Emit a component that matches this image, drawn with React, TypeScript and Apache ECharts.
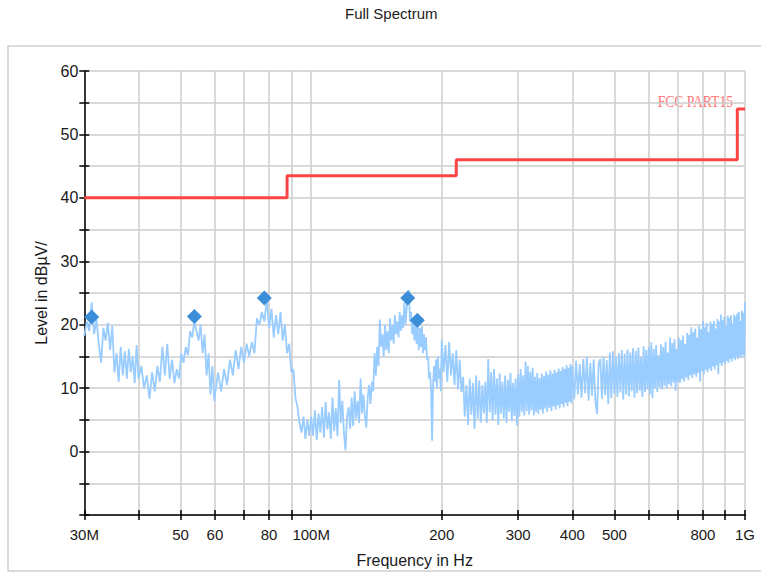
import React, { useEffect, useRef } from 'react';
import * as echarts from 'echarts';

const titleText = 'Full Spectrum';
const xAxisName = 'Frequency in Hz';
const yAxisName = 'Level in dBµV/';
const limitName = 'FCC PART15';

// x axis (MHz)
const xTickFreqs = [30, 40, 50, 60, 70, 80, 90, 100, 200, 300, 400, 500, 600, 700, 800, 900, 1000];
const xLabelFreqs = [30, 50, 60, 80, 100, 200, 300, 400, 500, 800, 1000];
const xLabelTexts = ['30M', '50', '60', '80', '100M', '200', '300', '400', '500', '800', '1G'];
const xMinFreq = 30;
const xMaxFreq = 1000;

// y axis
const yMin = -10;
const yMax = 60;
const yStep = 5;

// limit line
const limitFreq = [30, 88, 88, 216, 216, 960, 960, 1000];
const limitLevel = [40, 40, 43.5, 43.5, 46, 46, 54, 54];

// peak markers
const markerFreq = [31.2, 53.8, 78.0, 167.0, 175.7];
const markerLevel = [21.2, 21.3, 24.2, 24.2, 20.7];

// measured trace [MHz, dBµV]
const trace: [number, number][] = [
  [30.0, 18.2], [30.4, 20.5], [30.8, 19.0], [31.2, 23.5], [31.6, 18.5], [32.0, 20.8], [32.4, 17.0], [32.8, 14.0],
  [33.2, 19.5], [33.6, 17.5], [34.0, 20.3], [34.4, 16.0], [34.8, 19.8], [35.2, 12.5], [35.6, 15.5], [36.0, 11.0],
  [36.4, 16.5], [36.8, 12.0], [37.2, 15.8], [37.6, 11.5], [38.0, 16.2], [38.4, 12.5], [38.8, 15.0], [39.2, 10.8],
  [39.6, 16.8], [40.0, 11.5],
  [40.6, 13.5], [41.2, 10.0], [41.8, 12.0], [42.4, 8.3], [43.0, 12.5], [43.6, 9.5], [44.2, 13.5], [44.8, 11.0],
  [45.4, 16.5], [46.0, 12.0], [46.6, 17.0], [47.2, 11.5], [47.8, 14.5], [48.4, 10.8], [49.0, 13.0], [49.6, 11.5],
  [50.2, 15.5], [50.8, 14.0], [51.4, 16.5], [52.0, 15.2], [52.6, 19.0], [53.2, 18.0], [53.8, 20.5], [54.4, 19.0],
  [55.0, 17.5], [55.6, 20.0], [56.2, 15.5], [56.8, 18.5], [57.4, 12.0], [58.0, 15.5], [58.6, 9.0], [59.2, 13.5],
  [59.8, 8.0],
  [61, 12.5], [62, 9.5], [63, 13.0], [64, 10.5], [65, 14.5], [66, 12.0], [67, 16.0], [68, 13.0], [69, 16.5],
  [70, 14.0], [71, 17.0], [72, 15.0], [73, 17.3], [74, 15.5], [75, 21.0], [76, 20.0], [77, 22.0], [78, 20.5],
  [79, 24.0], [80, 19.5], [81, 22.5], [82, 18.0], [83, 21.5], [84, 18.5], [85, 22.0], [86, 17.5], [87, 20.0],
  [88, 15.5], [89, 17.0], [90, 12.5], [91, 13.0], [92, 8.5], [93, 7.0], [94, 4.5], [95, 3.0], [96, 5.5],
  [97, 2.0], [98, 5.0], [99, 2.5],
  [100, 5.5], [101, 2.5], [102, 6.5], [103, 1.8], [104, 6.0], [105, 3.0], [106, 7.0], [107, 2.2], [108, 7.8],
  [109, 3.5], [110, 6.2], [111, 2.0], [112, 8.5], [113, 3.2], [114, 6.8], [115, 2.4], [116, 11.3], [117, 4.5],
  [118, 8.0], [119, 3.0], [120, 0.2], [121, 5.5], [122, 7.0], [123, 3.6], [124, 8.5], [125, 4.0], [126, 9.5],
  [127, 5.2], [128, 8.0], [129, 4.5], [130, 11.5], [131, 6.0], [132, 9.0], [133, 5.5], [134, 3.8], [135, 8.5],
  [136, 10.5], [137, 7.5], [138, 11.0], [139, 9.5], [140, 15.5], [141, 12.0], [142, 16.5], [143, 13.5],
  [144, 20.8], [145, 16.5], [146, 18.5], [147, 15.0], [148, 20.0], [149, 16.0], [150, 19.0], [151, 15.5],
  [152, 21.0], [153, 17.5], [154, 20.0], [155, 17.0], [156, 21.5], [157, 18.5], [158, 20.5], [159, 18.0],
  [160, 22.0], [161, 19.0], [162, 21.5], [163, 19.5], [164, 23.5], [165, 20.0], [166, 22.5], [167, 24.5],
  [168, 25.5], [169, 20.5], [170, 22.0], [171, 18.5], [172, 21.0], [173, 17.5], [174, 20.5], [175, 17.0],
  [176, 20.0], [177, 16.0], [178, 19.5], [179, 16.5], [180, 19.8], [181, 15.5], [182, 18.5], [183, 16.0],
  [184, 18.0], [185, 14.5], [186, 15.0], [187, 11.5], [188, 12.5], [189, 9.5], [190, 1.7], [191, 10.5],
  [192, 13.5], [193, 11.0], [194, 14.5], [195, 10.0], [196, 15.0], [197, 11.5], [198, 13.0], [199, 9.5],
  [200, 17.5], [202, 12.5], [204, 16.8], [206, 11.0], [208, 17.3], [210, 12.0], [212, 15.5], [214, 10.5],
  [216, 16.0], [218, 9.8], [220, 14.5], [222, 9.4], [224, 11.8], [226, 5.5], [228, 10.5], [230, 4.2],
  [232, 11.5], [234, 5.8], [236, 10.8], [238, 3.6], [240, 12.0], [242, 5.2], [244, 11.2], [246, 4.6],
  [248, 10.5], [250, 6.0], [252, 11.0], [254, 4.5], [256, 14.6], [258, 6.2], [260, 12.5], [262, 5.0],
  [264, 13.0], [266, 5.8], [268, 11.5], [270, 4.2], [272, 12.3], [274, 6.0], [276, 11.0], [278, 5.2],
  [280, 12.0], [282, 4.5], [284, 11.3], [286, 6.3], [288, 12.4], [290, 4.8], [292, 10.8], [294, 5.6],
  [296, 11.5], [298, 4.1], [300, 12.2], [302, 5.5], [304, 13.0], [306, 6.3], [308, 12.0], [310, 5.7],
  [312, 14.2], [314, 6.4], [316, 13.5], [318, 5.8], [320, 12.6], [322, 6.5], [324, 13.2], [326, 5.7],
  [328, 11.8], [330, 6.2], [332, 12.4], [334, 5.9], [336, 11.6], [338, 6.6], [340, 12.3], [342, 6.0],
  [344, 11.9], [346, 6.8], [348, 12.6], [350, 6.3], [352, 12.2], [354, 6.9], [356, 12.8], [358, 6.4],
  [360, 12.3], [362, 7.1], [364, 12.9], [366, 6.6], [368, 12.5], [370, 7.3], [372, 13.1], [374, 6.8],
  [376, 12.7], [378, 7.5], [380, 13.3], [382, 7.0], [384, 13.0], [386, 7.7], [388, 13.6], [390, 7.2],
  [392, 13.2], [394, 7.9], [396, 13.8], [398, 7.6],
  [400, 13.5], [404, 8.2], [408, 14.3], [412, 9.0], [416, 13.8], [420, 8.5], [424, 14.6], [428, 9.2],
  [432, 14.9], [436, 8.0], [440, 14.0], [444, 8.8], [448, 14.5], [452, 7.9], [456, 5.9], [460, 13.9],
  [464, 14.6], [468, 8.3], [472, 15.0], [476, 8.9], [480, 14.4], [484, 7.5], [488, 15.6], [492, 8.4],
  [496, 15.8], [500, 9.1], [504, 15.0], [508, 8.6], [512, 15.5], [516, 9.3], [520, 16.0], [524, 8.2],
  [528, 15.4], [532, 9.0], [536, 16.1], [540, 8.7], [544, 15.6], [548, 9.5], [552, 16.3], [556, 8.5],
  [560, 15.9], [564, 9.2], [568, 16.4], [572, 9.6], [576, 14.9], [580, 8.6], [584, 16.6], [588, 9.4],
  [592, 16.0], [596, 9.8], [600, 16.5], [604, 9.0], [608, 17.2], [612, 8.4], [616, 16.2], [620, 10.0],
  [624, 16.8], [628, 9.4], [632, 15.2], [636, 10.2], [640, 16.9], [644, 9.8], [648, 16.5], [652, 10.4],
  [656, 17.3], [660, 10.0], [664, 15.6], [668, 10.6], [672, 18.0], [676, 10.3], [680, 17.1], [684, 10.9],
  [688, 17.7], [692, 9.6], [696, 16.2], [700, 11.1], [704, 18.0], [708, 10.8], [712, 17.6], [716, 11.4],
  [720, 18.3], [724, 11.0], [728, 16.9], [732, 11.7], [736, 18.7], [740, 11.3], [744, 18.4], [748, 12.0],
  [752, 19.6], [756, 11.6], [760, 18.8], [764, 12.2], [768, 19.4], [772, 11.8], [776, 18.0], [780, 12.4],
  [784, 19.8], [788, 11.0], [792, 19.3], [796, 12.7], [800, 20.6], [804, 12.2], [808, 19.6], [812, 12.9],
  [816, 20.3], [820, 12.5], [824, 18.8], [828, 13.1], [832, 20.5], [836, 12.7], [840, 20.1], [844, 13.4],
  [848, 20.6], [852, 13.0], [856, 19.4], [860, 13.6], [864, 20.9], [868, 12.2], [872, 20.5], [876, 13.9],
  [880, 21.6], [884, 13.5], [888, 20.7], [892, 14.1], [896, 21.2], [900, 13.8], [904, 19.8], [908, 14.3],
  [912, 21.4], [916, 14.0], [920, 21.1], [924, 14.6], [928, 21.5], [932, 14.2], [936, 20.2], [940, 14.8],
  [944, 21.6], [948, 14.4], [952, 21.3], [956, 15.0], [960, 21.8], [964, 14.6], [968, 22.0], [972, 15.1],
  [976, 20.6], [980, 14.8], [984, 22.2], [988, 15.3], [992, 21.9], [996, 15.0], [1000, 23.5],
];

const FONT = '"Liberation Sans", Arial, sans-serif';
const TEXT_COLOR = '#1a1a1a';
const GRID_COLOR = '#cccccc';

export default function App() {
  const ref = useRef<HTMLDivElement>(null);

  useEffect(() => {
    if (!ref.current) return;
    const chart = echarts.init(ref.current, undefined, { renderer: 'svg' });

    const tickLogs = xTickFreqs.map((f) => Math.log10(f));
    const labelLogs = xLabelFreqs.map((f) => Math.log10(f));
    const xLogMin = Math.log10(xMinFreq);
    const xLogMax = Math.log10(xMaxFreq);

    const xLabelFormatter = (v: number) => {
      const i = labelLogs.findIndex((l) => Math.abs(l - v) < 1e-6);
      return i >= 0 ? xLabelTexts[i] : '';
    };

    chart.setOption({
      animation: false,
      backgroundColor: '#ffffff',
      title: {
        text: titleText,
        left: 340,
        top: 1,
        textStyle: { fontFamily: FONT, fontSize: 15, fontWeight: 'normal', color: TEXT_COLOR },
      },
      graphic: [
        {
          type: 'rect',
          z: -10,
          silent: true,
          shape: { x: 8, y: 46, width: 800, height: 525 },
          style: { fill: 'none', stroke: '#cfcfcf', lineWidth: 1.5 },
        },
        {
          type: 'text',
          x: 733,
          y: 102,
          scaleX: 0.85,
          silent: true,
          style: {
            text: limitName,
            font: '16px "Liberation Serif", "Times New Roman", serif',
            fill: '#ff7676',
            align: 'right',
            verticalAlign: 'middle',
          },
        },
      ],
      grid: { left: 84.3, right: 16, top: 71, bottom: 56.5, containLabel: false },
      xAxis: [
        {
          type: 'log',
          logBase: 10,
          min: xMinFreq,
          max: xMaxFreq,
          show: false,
        },
        {
          type: 'value',
          min: xLogMin,
          max: xLogMax,
          position: 'bottom',
          name: xAxisName,
          nameLocation: 'middle',
          nameGap: 37,
          nameTextStyle: { fontFamily: FONT, fontSize: 16, color: TEXT_COLOR },
          axisLine: { show: true, onZero: false, lineStyle: { color: '#000', width: 1.5 } },
          axisTick: { show: true, inside: false, length: 5, customValues: tickLogs, lineStyle: { color: '#000', width: 1.5 } },
          axisLabel: {
            show: true,
            customValues: labelLogs,
            formatter: xLabelFormatter,
            margin: 12,
            fontFamily: FONT,
            fontSize: 15,
            color: TEXT_COLOR,
          },
          splitLine: { show: true, lineStyle: { color: GRID_COLOR, width: 1.5 } },
        },
        {
          type: 'value',
          min: xLogMin,
          max: xLogMax,
          position: 'bottom',
          axisLine: { show: false, onZero: false },
          axisTick: { show: true, inside: true, length: 5, customValues: tickLogs, lineStyle: { color: '#000', width: 1.5 } },
          axisLabel: { show: false },
          splitLine: { show: false },
        },
      ],
      yAxis: [
        {
          type: 'value',
          min: yMin,
          max: yMax,
          interval: yStep,
          name: yAxisName,
          nameLocation: 'middle',
          nameRotate: 90,
          nameGap: 31,
          nameTextStyle: { fontFamily: FONT, fontSize: 16, color: TEXT_COLOR },
          axisLine: { show: true, onZero: false, lineStyle: { color: '#000', width: 1.5 } },
          axisTick: { show: true, inside: false, length: 5, lineStyle: { color: '#000', width: 1.5 } },
          axisLabel: {
            margin: 6,
            fontFamily: FONT,
            fontSize: 16,
            color: TEXT_COLOR,
            formatter: (v: number) => (v >= 0 && v % 10 === 0 ? String(v) : ''),
          },
          splitLine: { show: true, lineStyle: { color: GRID_COLOR, width: 1.5 } },
        },
        {
          type: 'value',
          min: yMin,
          max: yMax,
          interval: yStep,
          position: 'left',
          axisLine: { show: false, onZero: false },
          axisTick: { show: true, inside: true, length: 5, lineStyle: { color: '#000', width: 1.5 } },
          axisLabel: { show: false },
          splitLine: { show: false },
        },
      ],
      series: [
        {
          type: 'line',
          name: 'Trace',
          xAxisIndex: 0,
          yAxisIndex: 0,
          data: trace,
          symbol: 'none',
          lineStyle: { color: '#99ccff', width: 1.8 },
          z: 2,
        },
        {
          type: 'line',
          name: limitName,
          xAxisIndex: 0,
          yAxisIndex: 0,
          data: limitFreq.map((f, i) => [f, limitLevel[i]]),
          symbol: 'none',
          lineStyle: { color: '#ff4444', width: 3 },
          z: 3,
        },
        {
          type: 'scatter',
          name: 'Peaks',
          xAxisIndex: 0,
          yAxisIndex: 0,
          data: markerFreq.map((f, i) => [f, markerLevel[i]]),
          symbol: 'diamond',
          symbolSize: 15,
          itemStyle: { color: '#3b8ed8', opacity: 1 },
          z: 4,
        },
      ],
    });

    return () => chart.dispose();
  }, []);

  return (
    <div
      ref={ref}
      style={{ position: 'fixed', left: 0, top: 0, width: 761, height: 573 }}
    />
  );
}
